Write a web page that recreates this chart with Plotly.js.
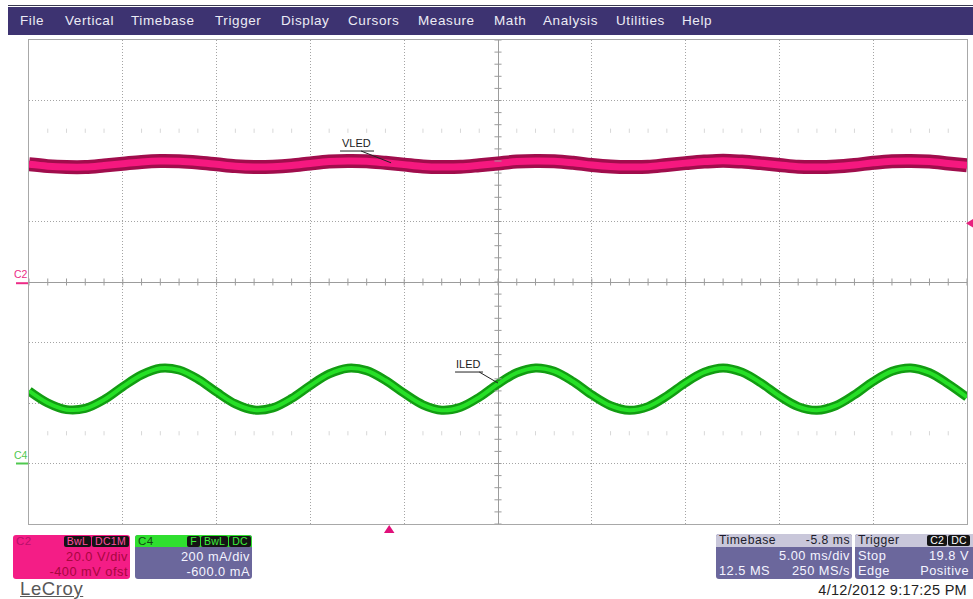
<!DOCTYPE html>
<html>
<head>
<meta charset="utf-8">
<script src="https://cdn.plot.ly/plotly-3.0.1.min.js"></script>
<style>
html,body{margin:0;padding:0;background:#fff;width:973px;height:599px;overflow:hidden;font-family:"Liberation Sans",Arial,sans-serif;}
#chart{position:absolute;left:0;top:0;width:973px;height:599px;z-index:0;}
.abs{position:absolute;z-index:2;}
#topline{left:8px;top:5px;width:965px;height:1px;background:#3a3a50;}
#menu{left:8px;top:7px;width:965px;height:28px;background:#3d3371;}
#menu span{position:absolute;top:6px;color:#ecebf5;font-size:13.5px;letter-spacing:0.6px;line-height:16px;white-space:nowrap;}
.box{position:absolute;z-index:2;border-radius:3px;font-size:12.8px;letter-spacing:0.5px;}
.strip{position:absolute;left:0;top:0;right:0;height:13px;border-radius:3px 3px 0 0;}
.row{position:absolute;left:3px;right:2px;height:14px;line-height:14px;white-space:nowrap;}
.srow{position:absolute;left:3px;right:2px;top:0;height:13px;line-height:13px;font-size:12.2px;white-space:nowrap;}
.l{position:absolute;left:0;top:0;}
.r{position:absolute;right:0;top:0;}
.badges{position:absolute;right:1px;top:1px;display:flex;gap:1px;height:11px;}
.badge{background:#141414;border-radius:2px;font-size:10.5px;line-height:11px;height:11px;padding:0 3px;letter-spacing:0.3px;}
</style>
</head>
<body>
<div id="chart"></div>

<div id="topline" class="abs"></div>
<div id="menu" class="abs">
  <span style="left:12px">File</span>
  <span style="left:57px">Vertical</span>
  <span style="left:123px">Timebase</span>
  <span style="left:207px">Trigger</span>
  <span style="left:273px">Display</span>
  <span style="left:340px">Cursors</span>
  <span style="left:410px">Measure</span>
  <span style="left:486px">Math</span>
  <span style="left:535px">Analysis</span>
  <span style="left:608px">Utilities</span>
  <span style="left:674px">Help</span>
</div>

<!-- C2 box -->
<div class="box" style="left:13px;top:535px;width:117px;height:44px;background:#f41d86;">
  <div class="srow" style="color:#b8106a;font-size:11.5px;">C2</div>
  <div class="badges"><span class="badge" style="color:#ff4fa2">BwL</span><span class="badge" style="color:#ff4fa2">DC1M</span></div>
  <div class="row" style="top:15px;color:#a8063f;"><span class="r">20.0 V/div</span></div>
  <div class="row" style="top:30px;color:#a8063f;"><span class="r">-400 mV ofst</span></div>
</div>

<!-- C4 box -->
<div class="box" style="left:135px;top:535px;width:117px;height:44px;background:#6b679c;">
  <div class="strip" style="height:12px;background:#2fdf2f;"></div>
  <div class="srow" style="color:#124812;font-size:11.5px;">C4</div>
  <div class="badges"><span class="badge" style="color:#3cf03c">F</span><span class="badge" style="color:#3cf03c">BwL</span><span class="badge" style="color:#3cf03c">DC</span></div>
  <div class="row" style="top:15px;color:#f4f4ff;"><span class="r">200 mA/div</span></div>
  <div class="row" style="top:30px;color:#f4f4ff;"><span class="r">-600.0 mA</span></div>
</div>

<!-- LeCroy logo -->
<div class="abs" style="left:20px;top:580px;font-size:18.5px;color:#585858;letter-spacing:0.6px;text-decoration:underline;line-height:18px;">LeCroy</div>

<!-- Timebase box -->
<div class="box" style="left:716px;top:534px;width:136px;height:45px;background:#6b679c;">
  <div class="strip" style="background:#c9c7da;"></div>
  <div class="srow" style="color:#1c1c2c;"><span class="l">Timebase</span><span class="r">-5.8 ms</span></div>
  <div class="row" style="top:15px;color:#f4f4ff;"><span class="r">5.00 ms/div</span></div>
  <div class="row" style="top:30px;color:#f4f4ff;"><span class="l">12.5 MS</span><span class="r">250 MS/s</span></div>
</div>

<!-- Trigger box -->
<div class="box" style="left:855px;top:534px;width:118px;height:45px;background:#6b679c;border-radius:3px 0 0 3px;">
  <div class="strip" style="background:#c9c7da;border-radius:3px 0 0 0;"></div>
  <div class="srow" style="color:#1c1c2c;"><span class="l">Trigger</span></div>
  <div class="badges" style="right:3px;"><span class="badge" style="color:#ffffff">C2</span><span class="badge" style="color:#ffffff">DC</span></div>
  <div class="row" style="top:15px;color:#f4f4ff;right:4px;"><span class="l">Stop</span><span class="r">19.8 V</span></div>
  <div class="row" style="top:30px;color:#f4f4ff;right:4px;"><span class="l">Edge</span><span class="r">Positive</span></div>
</div>

<!-- Date -->
<div class="abs" style="right:6px;top:583px;font-size:14.5px;letter-spacing:0.3px;color:#222;line-height:15px;white-space:nowrap;">4/12/2012 9:17:25 PM</div>

<script>
// ---------------- DATA (read from the screen) ----------------
// sample times, ms relative to screen centre (5 ms/div, 10 div)
const timeMs = [-25,-24,-23,-22,-21,-20,-19,-18,-17,-16,-15,-14,-13,-12,-11,-10,-9,-8,-7,-6,-5,-4,-3,-2,-1,0,1,2,3,4,5,6,7,8,9,10,11,12,13,14,15,16,17,18,19,20,21,22,23,24,25];

// C2: VLED in volts
const vledV = [39.3,38.7,38.4,38.4,38.9,39.5,40.1,40.4,40.3,39.9,39.3,38.7,38.4,38.5,38.9,39.6,40.2,40.4,40.3,39.8,39.2,38.6,38.4,38.5,39.0,39.6,40.2,40.4,40.3,39.8,39.1,38.6,38.4,38.5,39.1,39.7,40.2,40.5,40.2,39.7,39.1,38.5,38.4,38.6,39.1,39.8,40.3,40.4,40.2,39.6,39.0];

// C4: ILED in mA
const iledMA = [240,200,178,182,211,254,293,315,309,279,236,197,177,184,215,258,296,315,307,275,232,194,176,186,219,263,300,316,305,271,227,191,176,188,223,267,302,316,302,267,223,188,176,191,227,271,305,316,300,263,219];

// channel settings
const c2Scale = 20;      // V/div
const c2Offset = -0.4;   // V
const c4Scale = 200;     // mA/div
const c4Offset = -600;   // mA
const triggerTimeMs = -5.8;
const triggerLevelV = 19.8;
const traceNames = ['VLED','ILED'];
// --------------------------------------------------------------

const vDiv = vledV.map(v => (v + c2Offset) / c2Scale);
const iDiv = iledMA.map(i => (i + c4Offset) / c4Scale);
const c2Ground = (0 + c2Offset) / c2Scale;
const c4Ground = (0 + c4Offset) / c4Scale;
const trigDiv = (triggerLevelV + c2Offset) / c2Scale;

function tr(y, color, width) {
  return {x: timeMs, y: y, mode: 'lines', hoverinfo: 'skip',
          line: {color: color, width: width, shape: 'spline', smoothing: 1}};
}
const data = [
  tr(vDiv, '#a00d4c', 14),
  tr(vDiv, '#f5187f', 7),
  tr(iDiv, '#129c12', 9),
  tr(iDiv, '#26e026', 4)
];

// pixel geometry helpers for paper coordinates
const L = 29, R = 967, T = 40, B = 524;
const X = px => (px - L) / (R - L);
const Y = py => (B - py) / (B - T);

const shapes = [];
const gray = '#9c9c9c';
// minor ticks on centre horizontal axis (every 1 ms)
for (let k = -25; k <= 25; k++) {
  shapes.push({type:'line', xref:'x', yref:'y', x0:k, x1:k, y0:-0.058, y1:0.058, line:{color:gray, width:1}});
}
// minor ticks on centre vertical axis (every 0.2 div)
for (let j = -20; j <= 20; j++) {
  shapes.push({type:'line', xref:'x', yref:'y', x0:-0.19, x1:0.19, y0:j*0.2, y1:j*0.2, line:{color:gray, width:1}});
}
// faint dash rows
[2.5, -2.5].forEach(yy => {
  for (let k = -24; k <= 24; k++) {
    if (k % 5 === 0) continue;
    shapes.push({type:'line', xref:'x', yref:'y', x0:k, x1:k, y0:yy-0.035, y1:yy+0.035, line:{color:'#d8d8d8', width:1}});
  }
});

// label underlines and leaders
shapes.push({type:'line', xref:'x', yref:'y', x0:-8.42, x1:-6.61, y0:2.165, y1:2.165, line:{color:'#222', width:1}});
shapes.push({type:'line', xref:'x', yref:'y', x0:-7.3, x1:-5.7, y0:2.165, y1:1.97, line:{color:'#222', width:1}});
shapes.push({type:'line', xref:'x', yref:'y', x0:-2.29, x1:-0.8, y0:-1.488, y1:-1.488, line:{color:'#222', width:1}});
shapes.push({type:'line', xref:'x', yref:'y', x0:-1.0, x1:0.0, y0:-1.488, y1:-1.67, line:{color:'#222', width:1}});

// ground markers
shapes.push({type:'line', xref:'paper', yref:'y', x0:X(16), x1:X(28), y0:c2Ground, y1:c2Ground, line:{color:'#ec2b86', width:2}});
shapes.push({type:'line', xref:'paper', yref:'y', x0:X(16), x1:X(28), y0:c4Ground, y1:c4Ground, line:{color:'#4fc84f', width:2}});

// trigger time marker (bottom)
shapes.push({type:'path', xref:'x', yref:'paper',
  path:`M ${triggerTimeMs-0.28} ${Y(533)} L ${triggerTimeMs+0.28} ${Y(533)} L ${triggerTimeMs} ${Y(525)} Z`,
  fillcolor:'#e0107a', line:{width:0}});
// trigger level marker (right)
shapes.push({type:'path', xref:'paper', yref:'y',
  path:`M ${X(966)} ${trigDiv} L ${X(973)} ${trigDiv+0.07} L ${X(973)} ${trigDiv-0.07} Z`,
  fillcolor:'#e8207e', line:{width:0}});

const annotations = [
  {x:-7.52, y:2.165, xref:'x', yref:'y', text:traceNames[0], showarrow:false, xanchor:'center', yanchor:'bottom', yshift:0,
   font:{family:'Liberation Sans, Arial', size:11, color:'#1a1a1a'}},
  {x:-1.55, y:-1.488, xref:'x', yref:'y', text:traceNames[1], showarrow:false, xanchor:'center', yanchor:'bottom', yshift:0,
   font:{family:'Liberation Sans, Arial', size:11, color:'#1a1a1a'}},
  {x:X(21), y:c2Ground, xref:'paper', yref:'y', text:'C2', showarrow:false, xanchor:'center', yanchor:'bottom', yshift:1,
   font:{family:'Liberation Sans, Arial', size:10.5, color:'#ec2b86'}},
  {x:X(21), y:c4Ground, xref:'paper', yref:'y', text:'C4', showarrow:false, xanchor:'center', yanchor:'bottom', yshift:1,
   font:{family:'Liberation Sans, Arial', size:10.5, color:'#4fc84f'}}
];

const axisCommon = {
  showgrid:true, gridcolor:'#a4a4a4', griddash:'1px,2px', gridwidth:1,
  zeroline:true, zerolinecolor:gray, zerolinewidth:1,
  showline:true, mirror:true, linecolor:'#a8a8a8', linewidth:1,
  showticklabels:false, ticks:'', fixedrange:true
};

const layout = {
  width:973, height:599,
  margin:{l:L, r:973-R, t:T, b:599-B, pad:0},
  paper_bgcolor:'#ffffff', plot_bgcolor:'#ffffff',
  showlegend:false,
  xaxis:Object.assign({range:[-25,25], dtick:5, tick0:0}, axisCommon),
  yaxis:Object.assign({range:[-4,4], dtick:1, tick0:0}, axisCommon),
  shapes:shapes,
  annotations:annotations
};

Plotly.newPlot('chart', data, layout, {staticPlot:true, displayModeBar:false});
</script>
</body>
</html>
